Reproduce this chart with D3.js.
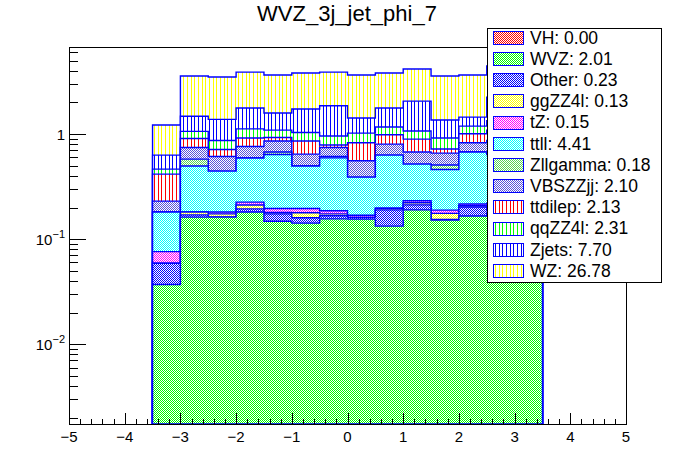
<!DOCTYPE html>
<html>
<head>
<meta charset="utf-8">
<script src="https://cdn.jsdelivr.net/npm/d3@7"></script>
<style>
body { margin: 0; background: #fff; }
svg { font-family: "Liberation Sans", Arial, Helvetica, sans-serif; }
</style>
</head>
<body>
<svg id="chart" width="696" height="472"></svg>
<script>
var binEdges = [-3.5, -3, -2.5, -2, -1.5, -1, -0.5, 0, 0.5, 1, 1.5, 2, 2.5, 3, 3.5];

var VH       = [0, 0, 0, 0, 0, 0, 0, 0, 0, 0, 0, 0, 0, 0];
var WVZ      = [0.037, 0.162, 0.162, 0.181, 0.148, 0.142, 0.156, 0.155, 0.133, 0.190, 0.152, 0.166, 0.180, 0.046];
var Other    = [0.022, 0.008, 0.001, 0.013, 0.026, 0.018, 0.011, 0.006, 0.057, 0.022, 0.002, 0.036, 0.008, 0.000];
var ggZZ4l   = [0.000, 0.011, 0.011, 0.017, 0.005, 0.018, 0.007, 0.000, 0.007, 0.010, 0.022, 0.006, 0.012, 0.004];
var tZ       = [0.017, 0.000, 0.007, 0.014, 0.017, 0.018, 0.012, 0.008, 0.000, 0.010, 0.013, 0.008, 0.020, 0.006];
var ttll     = [0.105, 0.315, 0.263, 0.366, 0.444, 0.300, 0.408, 0.220, 0.434, 0.286, 0.271, 0.458, 0.420, 0.120];
var Zllgamma = [0.000, 0.082, 0.000, 0.000, 0.034, 0.000, 0.018, 0.000, 0.000, 0.000, 0.047, 0.000, 0.000, 0.000];
var VBSZZjj  = [0.049, 0.167, 0.168, 0.171, 0.184, 0.149, 0.133, 0.168, 0.172, 0.156, 0.152, 0.152, 0.230, 0.050];
var ttdilep  = [0.186, 0.163, 0.101, 0.154, 0.070, 0.213, 0.041, 0.269, 0.182, 0.222, 0.061, 0.181, 0.220, 0.070];
var qqZZ4l   = [0.048, 0.152, 0.156, 0.204, 0.162, 0.177, 0.171, 0.194, 0.181, 0.172, 0.196, 0.183, 0.250, 0.060];
var Zjets    = [0.167, 0.420, 0.511, 0.650, 0.495, 0.695, 0.900, 0.400, 0.604, 0.990, 0.444, 0.260, 0.900, 0.260];
var WZ       = [0.587, 2.090, 2.110, 2.120, 2.065, 2.080, 2.030, 2.230, 2.040, 2.100, 2.210, 2.200, 2.200, 0.720];

var processes = ["VH", "WVZ", "Other", "ggZZ4l", "tZ", "ttll", "Zllgamma", "VBSZZjj", "ttdilep", "qqZZ4l", "Zjets", "WZ"];
var series = [VH, WVZ, Other, ggZZ4l, tZ, ttll, Zllgamma, VBSZZjj, ttdilep, qqZZ4l, Zjets, WZ];
var legendTotals = ["0.00", "2.01", "0.23", "0.13", "0.15", "4.41", "0.18", "2.10", "2.13", "2.31", "7.70", "26.78"];

var xTicks = [-5, -4, -3, -2, -1, 0, 1, 2, 3, 4, 5];
var yDecades = [0.01, 0.1, 1];
var yDecadeLabels = [["10", "\u22122"], ["10", "\u22121"], ["1", ""]];

var fillColors = ["#ff0000", "#00ff00", "#0000ff", "#ffff00", "#ff00ff", "#00ffff", "#59d454", "#5954d8",
                  "#ff0000", "#00ff00", "#0000ff", "#ffff00"];
var fillStyles = ["checker", "checker", "checker", "checker", "checker", "checker", "checker", "checker",
                  "vlines", "vlines", "vlines", "vlines"];

var pLeft = 69, pRight = 626, pTop = 47, pBottom = 424;
var yMin = 0.00174, yMax = 6.74;

var svg = d3.select("#chart");
var x = d3.scaleLinear().domain([-5, 5]).range([pLeft, pRight]);
var y = d3.scaleLog().domain([yMin, yMax]).range([pBottom, pTop]);

var defs = svg.append("defs");
processes.forEach(function(p, i) {
  var pat;
  if (fillStyles[i] === "checker") {
    pat = defs.append("pattern").attr("id", "pat" + i)
      .attr("patternUnits", "userSpaceOnUse").attr("width", 2).attr("height", 2);
    pat.append("rect").attr("width", 2).attr("height", 2).attr("fill", "#fff");
    pat.append("rect").attr("x", 0).attr("y", 0).attr("width", 1).attr("height", 1).attr("fill", fillColors[i]);
    pat.append("rect").attr("x", 1).attr("y", 1).attr("width", 1).attr("height", 1).attr("fill", fillColors[i]);
  } else {
    pat = defs.append("pattern").attr("id", "pat" + i)
      .attr("patternUnits", "userSpaceOnUse").attr("width", 11).attr("height", 2);
    pat.append("rect").attr("width", 11).attr("height", 2).attr("fill", "#fff");
    [0, 4, 7].forEach(function(px) {
      pat.append("rect").attr("x", px).attr("width", 1).attr("height", 2).attr("fill", fillColors[i]);
    });
  }
});

var rows = binEdges.slice(0, -1).map(function(e, b) {
  var r = {x0: e, x1: binEdges[b + 1]};
  processes.forEach(function(p, i) { r[p] = series[i][b]; });
  return r;
});
var stacked = d3.stack().keys(processes)(rows);

function yc(v) { return y(Math.max(v, yMin)); }

var area = d3.area()
  .curve(d3.curveStepAfter)
  .x(function(d) { return x(d.x); })
  .y0(pBottom)
  .y1(function(d) { return yc(d.v); });

// ROOT style: draw the biggest cumulative sum first, smaller ones on top
var stackG = svg.append("g");
for (var i = stacked.length - 1; i >= 0; i--) {
  var layer = stacked[i];
  if (d3.max(series[i]) === 0) continue;
  var pts = layer.map(function(d) { return {x: d.data.x0, v: d[1]}; });
  pts.push({x: binEdges[binEdges.length - 1], v: layer[layer.length - 1][1]});
  stackG.append("path")
    .attr("d", area(pts))
    .attr("fill", "url(#pat" + i + ")")
    .attr("stroke", "#0000ff")
    .attr("stroke-width", 1.4);
}

svg.append("rect")
  .attr("x", pLeft + 0.5).attr("y", pTop + 0.5)
  .attr("width", pRight - pLeft).attr("height", pBottom - pTop)
  .attr("fill", "none").attr("stroke", "#000").attr("stroke-width", 1);

var tickG = svg.append("g").attr("stroke", "#000").attr("stroke-width", 1).attr("shape-rendering", "crispEdges");
d3.range(-50, 51, 2).forEach(function(k) {
  var v = k / 10;
  var len = (k % 10 === 0) ? 11 : 5.5;
  tickG.append("line")
    .attr("x1", Math.round(x(v)) + 0.5).attr("x2", Math.round(x(v)) + 0.5)
    .attr("y1", pBottom).attr("y2", pBottom - len);
});

[0.001, 0.01, 0.1, 1].forEach(function(dec) {
  for (var m = 1; m <= 9; m++) {
    var v = dec * m;
    if (v < yMin || v > yMax) continue;
    var len = (m === 1) ? 17 : 8.5;
    tickG.append("line")
      .attr("x1", pLeft).attr("x2", pLeft + len)
      .attr("y1", Math.round(y(v)) + 0.5).attr("y2", Math.round(y(v)) + 0.5);
  }
});

svg.append("g").selectAll("text")
  .data(xTicks).enter().append("text")
  .attr("x", function(d) { return x(d); })
  .attr("y", 442)
  .attr("text-anchor", "middle")
  .attr("font-size", 15)
  .text(function(d) { return d < 0 ? "\u2212" + Math.abs(d) : d; });

yDecades.forEach(function(dec, i) {
  var t = svg.append("text")
    .attr("x", 65)
    .attr("y", y(dec) + 5.5)
    .attr("text-anchor", "end")
    .attr("font-size", 15)
    .text(yDecadeLabels[i][0]);
  if (yDecadeLabels[i][1]) {
    t.append("tspan").attr("dy", -7).attr("font-size", 11).text(yDecadeLabels[i][1]);
  }
});

svg.append("text")
  .attr("x", 347).attr("y", 21)
  .attr("text-anchor", "middle")
  .attr("font-size", 22)
  .text("WVZ_3j_jet_phi_7");

// legend
var lg = svg.append("g");
lg.append("rect")
  .attr("x", 487.5).attr("y", 28.5).attr("width", 174).attr("height", 254)
  .attr("fill", "#fff").attr("stroke", "#000").attr("stroke-width", 1);
processes.forEach(function(p, i) {
  var cy = 37.3 + i * 21.2;
  lg.append("rect")
    .attr("x", 493.5).attr("y", Math.round(cy - 6.5) + 0.5).attr("width", 30).attr("height", 13)
    .attr("fill", "url(#pat" + i + ")").attr("stroke", "#0000ff").attr("stroke-width", 1);
  lg.append("text")
    .attr("x", 530).attr("y", cy + 6.3)
    .attr("font-size", 17.5)
    .text(p + ": " + legendTotals[i]);
});
</script>
</body>
</html>
